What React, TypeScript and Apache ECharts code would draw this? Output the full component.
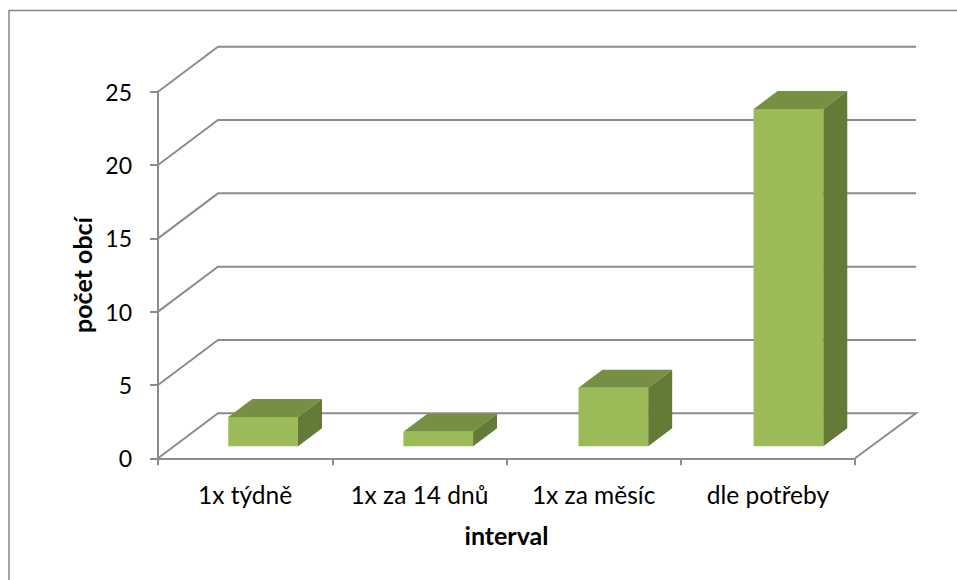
import React, { useEffect, useRef } from "react";
import * as echarts from "echarts";

const categories = ["1x týdně", "1x za 14 dnů", "1x za měsíc", "dle potřeby"];
const counts = [2, 1, 4, 23];
const gridValues = [0, 5, 10, 15, 20, 25];

const FONT = "Lato";
const LINE = "#8c8c8c";
const WALL_DX = 60;
const WALL_DY = -45;
const BAR_DX = 18;
const BAR_DX_STEP = 0.85;
const BAR_DY = -12;
const DEPTH_DX = 24;
const DEPTH_DY = -18;

export default function App() {
  const ref = useRef<HTMLDivElement>(null);
  useEffect(() => {
    const chart = echarts.init(ref.current!, null, { renderer: "svg" });
    chart.setOption({
      animation: false,
      backgroundColor: "#ffffff",
      textStyle: { fontFamily: FONT },
      graphic: [
        {
          type: "polyline",
          silent: true,
          shape: { points: [[9, 580], [9, 10.5], [957, 10.5]] },
          style: { stroke: "#868686", lineWidth: 1.5, fill: "none" },
        },
      ],
      grid: { left: 158, right: 102, top: 91.7, bottom: 121.7 },
      xAxis: {
        type: "category",
        data: categories,
        name: "interval",
        nameLocation: "middle",
        nameGap: 64,
        nameTextStyle: { fontFamily: FONT, fontWeight: "bold", fontSize: 25, color: "#000" },
        axisLine: { lineStyle: { color: LINE, width: 2 } },
        axisTick: { show: true, interval: 0, length: 7, alignWithLabel: false, lineStyle: { color: LINE, width: 2 } },
        axisLabel: { interval: 0, hideOverlap: false, fontFamily: FONT, fontSize: 24.5, color: "#000", margin: 24 },
      },
      yAxis: {
        type: "value",
        min: 0,
        max: 25,
        interval: 5,
        name: "počet obcí",
        nameLocation: "middle",
        nameRotate: 90,
        nameGap: 60,
        nameTextStyle: { fontFamily: FONT, fontWeight: "bold", fontSize: 25, color: "#000" },
        splitLine: { show: false },
        axisLine: { show: true, lineStyle: { color: LINE, width: 2 } },
        axisTick: { show: true, length: 8, lineStyle: { color: LINE, width: 2 } },
        axisLabel: { fontFamily: FONT, fontSize: 23, color: "#000", margin: 26 },
      },
      series: [
        {
          type: "custom",
          silent: true,
          clip: false,
          z: 1,
          encode: { x: 0, y: 1 },
          data: gridValues.map((v) => [0, v]),
          renderItem: (params: any, api: any) => {
            const y = api.coord([0, api.value(1)])[1];
            const c = params.coordSys;
            const left = c.x;
            const right = c.x + c.width;
            const points: number[][] = [
              [left, y],
              [left + WALL_DX, y + WALL_DY],
              [right + WALL_DX + 1, y + WALL_DY],
            ];
            if (api.value(1) === 0) points.push([right, y]);
            return {
              type: "polyline",
              shape: { points },
              style: { stroke: LINE, lineWidth: 2, fill: "none" },
            };
          },
        },
        {
          type: "custom",
          silent: true,
          clip: false,
          z: 3,
          encode: { x: 0, y: 1 },
          data: counts.map((v, i) => [i, v]),
          renderItem: (_params: any, api: any) => {
            const idx = api.value(0);
            const base = api.coord([idx, 0]);
            const top = api.coord([idx, api.value(1)]);
            const w = api.size([1, 0])[0] * 0.4;
            const x0 = base[0] - w / 2 + BAR_DX + idx * BAR_DX_STEP;
            const x1 = x0 + w;
            const yb = base[1] + BAR_DY;
            const yt = top[1] + BAR_DY;
            return {
              type: "group",
              children: [
                {
                  type: "polygon",
                  shape: { points: [[x0, yt], [x0 + DEPTH_DX, yt + DEPTH_DY], [x1 + DEPTH_DX, yt + DEPTH_DY], [x1, yt]] },
                  style: { fill: "#778f42" },
                },
                {
                  type: "polygon",
                  shape: { points: [[x1, yt], [x1 + DEPTH_DX, yt + DEPTH_DY], [x1 + DEPTH_DX, yb + DEPTH_DY], [x1, yb]] },
                  style: { fill: "#647a37" },
                },
                {
                  type: "rect",
                  shape: { x: x0, y: yt, width: w, height: yb - yt },
                  style: { fill: "#9bbb59" },
                },
              ],
            };
          },
        },
      ],
    });
    return () => chart.dispose();
  }, []);
  return <div ref={ref} style={{ position: "fixed", left: 0, top: 0, width: 957, height: 580 }} />;
}
